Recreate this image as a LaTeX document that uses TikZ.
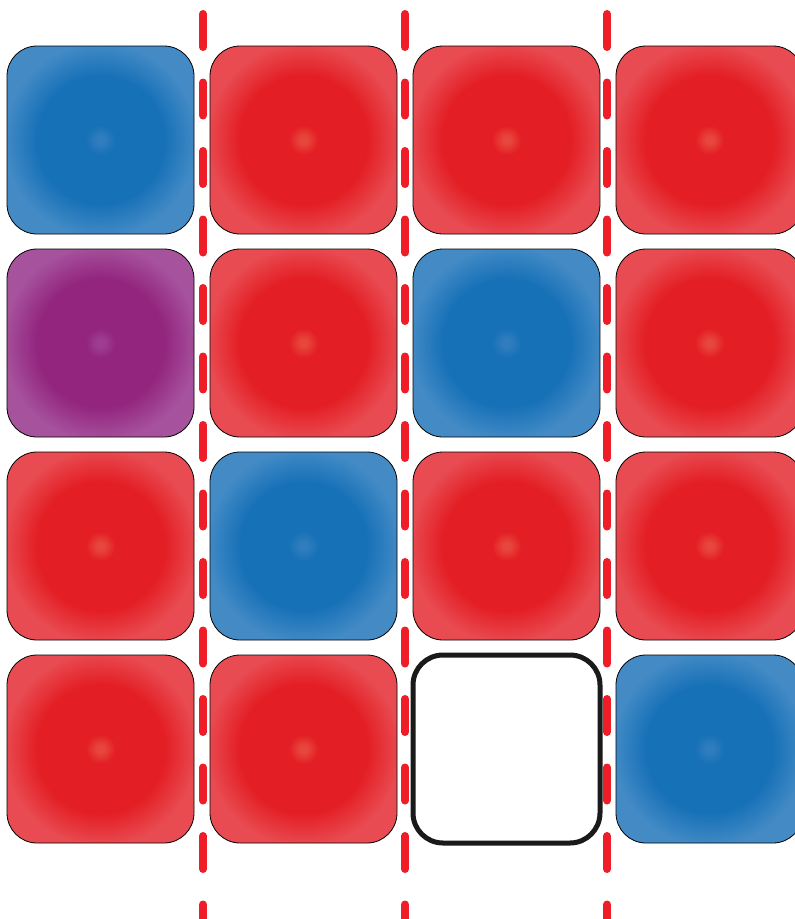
\documentclass[tikz,border=0pt]{standalone}
\definecolor{redmain}{HTML}{E31E24}
\definecolor{redlight}{HTML}{E84C52}
\definecolor{redcen}{HTML}{E7463C}
\definecolor{bluemain}{HTML}{1771B7}
\definecolor{bluelight}{HTML}{448BC6}
\definecolor{bluecen}{HTML}{307DBE}
\definecolor{purmain}{HTML}{93257F}
\definecolor{purlight}{HTML}{A6529C}
\definecolor{purcen}{HTML}{9E3D93}
\definecolor{dashred}{HTML}{EE1D27}
\definecolor{edgeblack}{HTML}{1A1A1A}
\pgfdeclareradialshading{redsh}{\pgfpoint{0bp}{0bp}}{color(0bp)=(redcen); color(1bp)=(redcen); color(4bp)=(redmain); color(17bp)=(redmain); color(26bp)=(redlight); color(50bp)=(redlight)}
\pgfdeclareradialshading{bluesh}{\pgfpoint{0bp}{0bp}}{color(0bp)=(bluecen); color(1bp)=(bluecen); color(4bp)=(bluemain); color(17bp)=(bluemain); color(26bp)=(bluelight); color(50bp)=(bluelight)}
\pgfdeclareradialshading{pursh}{\pgfpoint{0bp}{0bp}}{color(0bp)=(purcen); color(1bp)=(purcen); color(4bp)=(purmain); color(17bp)=(purmain); color(26bp)=(purlight); color(50bp)=(purlight)}
\tikzset{
  tile/.style={draw=black, line width=0.8pt, rounded corners=30pt, minimum width=187pt, minimum height=188pt, inner sep=0pt, outer sep=0pt},
  redtile/.style={tile, shading=redsh},
  bluetile/.style={tile, shading=bluesh},
  purtile/.style={tile, shading=pursh},
  emptytile/.style={draw=edgeblack, line width=5pt, fill=white, rounded corners=30pt, minimum width=187pt, minimum height=188pt, inner sep=0pt, outer sep=0pt},
  divider/.style={draw=dashred, line width=8pt, line cap=round, dash pattern=on 33pt off 35.5pt}
}
\begin{document}
\begin{tikzpicture}[x=1pt,y=-1pt]
\useasboundingbox (0,0) rectangle (795,919);
\clip (0,0) rectangle (795,919);
% dividers
\coordinate (d1t) at (203,14); \coordinate (d1b) at (203,930);
\coordinate (d2t) at (405,14); \coordinate (d2b) at (405,930);
\coordinate (d3t) at (607,14); \coordinate (d3b) at (607,930);
\draw[divider] (d1t) -- (d1b);
\draw[divider] (d2t) -- (d2b);
\draw[divider] (d3t) -- (d3b);
% row 1
\node[bluetile] (t11) at (100.5,140) {};
\node[redtile]  (t12) at (303.5,140) {};
\node[redtile]  (t13) at (506.5,140) {};
\node[redtile]  (t14) at (709.5,140) {};
% row 2
\node[purtile]  (t21) at (100.5,343) {};
\node[redtile]  (t22) at (303.5,343) {};
\node[bluetile] (t23) at (506.5,343) {};
\node[redtile]  (t24) at (709.5,343) {};
% row 3
\node[redtile]  (t31) at (100.5,546) {};
\node[bluetile] (t32) at (303.5,546) {};
\node[redtile]  (t33) at (506.5,546) {};
\node[redtile]  (t34) at (709.5,546) {};
% row 4
\node[redtile]  (t41) at (100.5,749) {};
\node[redtile]  (t42) at (303.5,749) {};
\node[emptytile] (t43) at (506.5,749) {};
\node[bluetile] (t44) at (709.5,749) {};
\end{tikzpicture}
\end{document}
